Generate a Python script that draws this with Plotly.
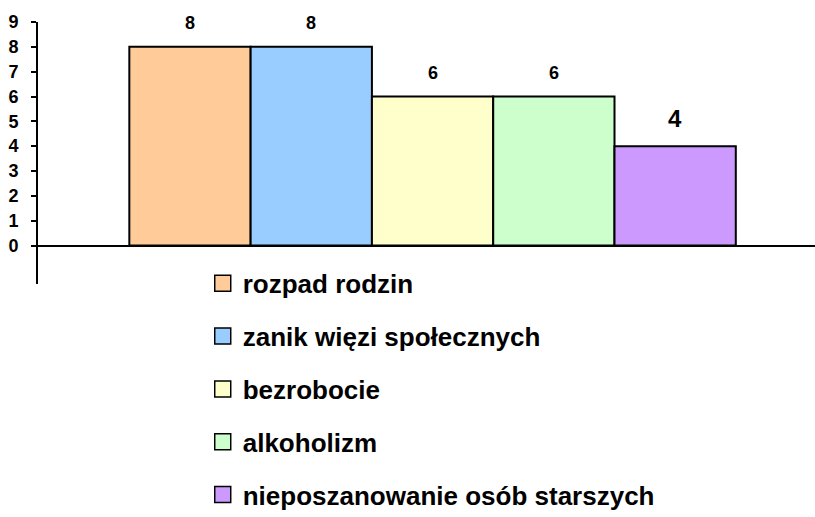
import plotly.graph_objects as go

categories = ["rozpad rodzin", "zanik więzi społecznych", "bezrobocie", "alkoholizm",
              "nieposzanowanie osób starszych"]
values = [8, 8, 6, 6, 4]
y_ticks = [0, 1, 2, 3, 4, 5, 6, 7, 8, 9]

colors = ["#FFCC99", "#99CCFF", "#FFFFCC", "#CCFFCC", "#CC99FF"]
label_sizes = [18, 18, 18, 18, 24]
label_shifts = [24, 24, 24, 24, 28]

FONT = "Arial, Liberation Sans, Helvetica, sans-serif"

fig = go.Figure()
for i, (cat, val) in enumerate(zip(categories, values)):
    fig.add_trace(go.Bar(
        x=[i], y=[val], width=1, name=cat, showlegend=False,
        marker=dict(color=colors[i], line=dict(color="black", width=2)),
        hoverinfo="skip",
    ))
for i, cat in enumerate(categories):
    fig.add_trace(go.Scatter(
        x=[None], y=[None], mode="markers", name=cat, legendgroup=f"g{i}",
        marker=dict(symbol="square", size=17, color=colors[i],
                    line=dict(color="black", width=1.5)),
    ))
for i, val in enumerate(values):
    fig.add_annotation(x=i, y=val, text=str(val), showarrow=False,
                       yshift=label_shifts[i], yanchor="middle",
                       font=dict(family=FONT, size=label_sizes[i], color="black", weight="bold"))

fig.update_layout(
    width=815, height=517,
    margin=dict(l=38, r=0, t=22, b=233, autoexpand=False),
    paper_bgcolor="white", plot_bgcolor="white",
    barmode="overlay",
    font=dict(family=FONT, color="black"),
    xaxis=dict(range=[-1.253, 5.153], showgrid=False, zeroline=False,
               showticklabels=False, ticks="", showline=False, fixedrange=True),
    yaxis=dict(range=[-1.55, 9], tickvals=y_ticks, showgrid=False,
               zeroline=True, zerolinecolor="black", zerolinewidth=2,
               showline=True, linecolor="black", linewidth=2,
               ticks="outside", ticklen=5, tickwidth=2, tickcolor="black",
               ticklabelstandoff=9, fixedrange=True,
               tickfont=dict(family=FONT, size=18, color="black", weight="bold")),
    showlegend=True,
    legend=dict(x=0.212, y=0.092, xanchor="left", yanchor="top",
                orientation="v", tracegroupgap=16, bgcolor="rgba(0,0,0,0)",
                font=dict(family=FONT, size=26, color="black", weight="bold")),
)

fig.write_html(
    "out.html",
    config={"displayModeBar": False},
    post_script="document.body.style.margin='0';document.body.style.overflow='hidden';",
)
